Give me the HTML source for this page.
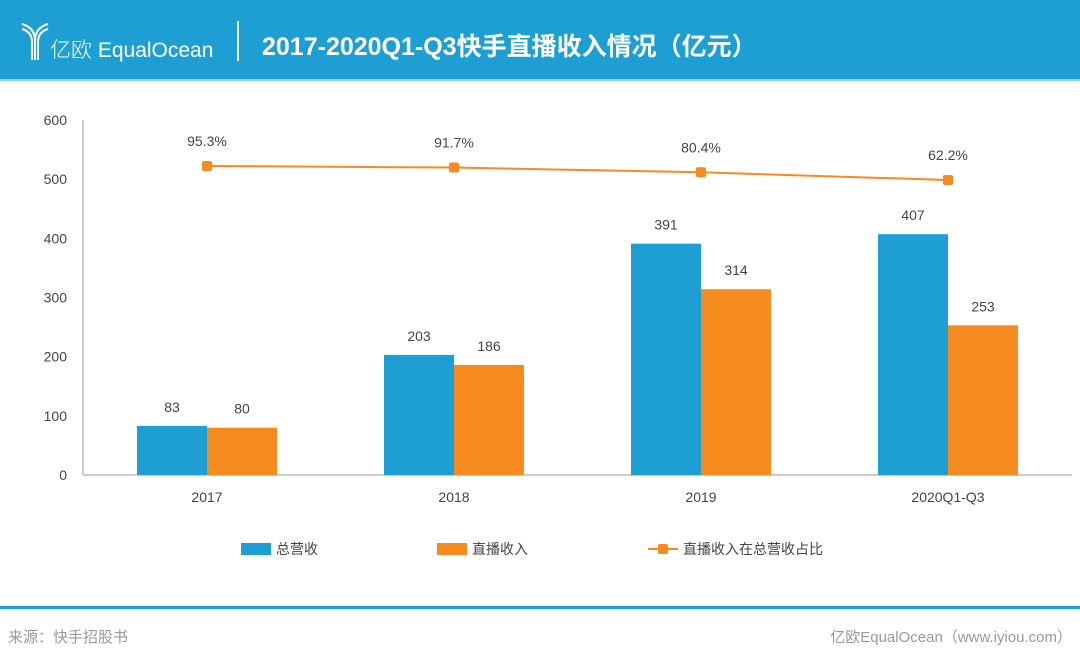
<!DOCTYPE html>
<html><head><meta charset="utf-8"><style>
body{margin:0;width:1080px;height:654px;background:#fff;font-family:"Liberation Sans","Noto Sans CJK SC",sans-serif;overflow:hidden;position:relative}
#hdr{position:absolute;left:0;top:0;width:1080px;height:79px;background:#1e9fd4;border-bottom:2px solid #8fd0ee}
.t{position:absolute;white-space:nowrap}
</style></head><body>
<div id="hdr">
  <svg class="t" style="left:20px;top:20px" width="30" height="42">
    <g fill="none" stroke="#fff" stroke-width="2"><path d="M2 4 Q15 8 15 20 L15 40"/><path d="M28 4 Q15 8 15 20"/><path d="M2 9 Q12 12 12 22 L12 40"/><path d="M28 9 Q18 12 18 22 L18 40"/></g>
  </svg>
  <div class="t" style="left:50px;top:34px;color:#fff;font-size:21px;font-weight:300">亿欧 EqualOcean</div>
  <div class="t" style="left:237px;top:21px;width:2px;height:40px;background:#fff"></div>
  <div class="t" style="left:262px;top:27px;color:#fff;font-size:25px;font-weight:bold">2017-2020Q1-Q3快手直播收入情况（亿元）</div>
</div>
<svg id="chart" class="t" style="left:0;top:0" width="1080" height="600"></svg>
<div class="t" style="left:0;top:606px;width:1080px;height:3px;background:#1e9fd4"></div>
<div class="t" style="left:8px;top:626px;color:#999;font-size:15px">来源：快手招股书</div>
<div class="t" style="right:8px;top:626px;color:#999;font-size:15px">亿欧EqualOcean（www.iyiou.com）</div>
<script>
const categories=["2017","2018","2019","2020Q1-Q3"];
const revenue=[83,203,391,407];
const live=[80,186,314,253];
const share=[95.3,91.7,80.4,62.2];
const yTicks=[0,100,200,300,400,500,600];
const svg=document.getElementById('chart');
const NS="http://www.w3.org/2000/svg";
function mk(t,a,txt){const e=document.createElementNS(NS,t);for(const k in a)e.setAttribute(k,a[k]);if(txt!==undefined)e.textContent=txt;svg.appendChild(e);return e;}
const y0=475,y1=120,x0=83;
const yS=v=>y0-(v/600)*(y0-y1);
const xC=i=>207+i*247;
const yP=p=>166+(95.3-p)*0.423;
yTicks.forEach(v=>{const e=mk('text',{x:67,y:yS(v)+5,'text-anchor':'end','font-size':14,fill:'#444'},v);
});
let a=mk('line',{x1:x0,y1:y1,x2:x0,y2:y0,stroke:'#bbb','stroke-width':1.5});

a=mk('line',{x1:x0,y1:y0,x2:1072,y2:y0,stroke:'#bbb','stroke-width':1.5});

categories.forEach((c,i)=>{
  const cx=xC(i);
  let r=mk('rect',{x:cx-70,y:yS(revenue[i]),width:70,height:y0-yS(revenue[i]),fill:'#1e9fd4'});
  
  r=mk('rect',{x:cx,y:yS(live[i]),width:70,height:y0-yS(live[i]),fill:'#f68b1f'});
  
  let t=mk('text',{x:cx-35,y:yS(revenue[i])-14,'text-anchor':'middle','font-size':14,fill:'#444'},revenue[i]);
  
  t=mk('text',{x:cx+35,y:yS(live[i])-14,'text-anchor':'middle','font-size':14,fill:'#444'},live[i]);
  
  t=mk('text',{x:cx,y:502,'text-anchor':'middle','font-size':14,fill:'#444'},c);
  
});
const pl=mk('polyline',{points:share.map((p,i)=>xC(i)+','+yP(p)).join(' '),fill:'none',stroke:'#f68b1f','stroke-width':2});

share.forEach((p,i)=>{
  const m=mk('rect',{x:xC(i)-5,y:yP(p)-5,width:10,height:10,rx:2,fill:'#f68b1f'});
  
  const t=mk('text',{x:xC(i),y:yP(p)-20,'text-anchor':'middle','font-size':14,fill:'#444'},p.toFixed(1)+'%');
  
});
let l=mk('rect',{x:241,y:543,width:30,height:12,fill:'#1e9fd4'});

l=mk('text',{x:276,y:554,'font-size':14,fill:'#444'},'总营收');

l=mk('rect',{x:437,y:543,width:30,height:12,fill:'#f68b1f'});

l=mk('text',{x:472,y:554,'font-size':14,fill:'#444'},'直播收入');

l=mk('line',{x1:648,y1:549,x2:678,y2:549,stroke:'#f68b1f','stroke-width':2});

l=mk('rect',{x:658,y:544,width:10,height:10,rx:2,fill:'#f68b1f'});

l=mk('text',{x:683,y:554,'font-size':14,fill:'#444'},'直播收入在总营收占比');

</script>
</body></html>
